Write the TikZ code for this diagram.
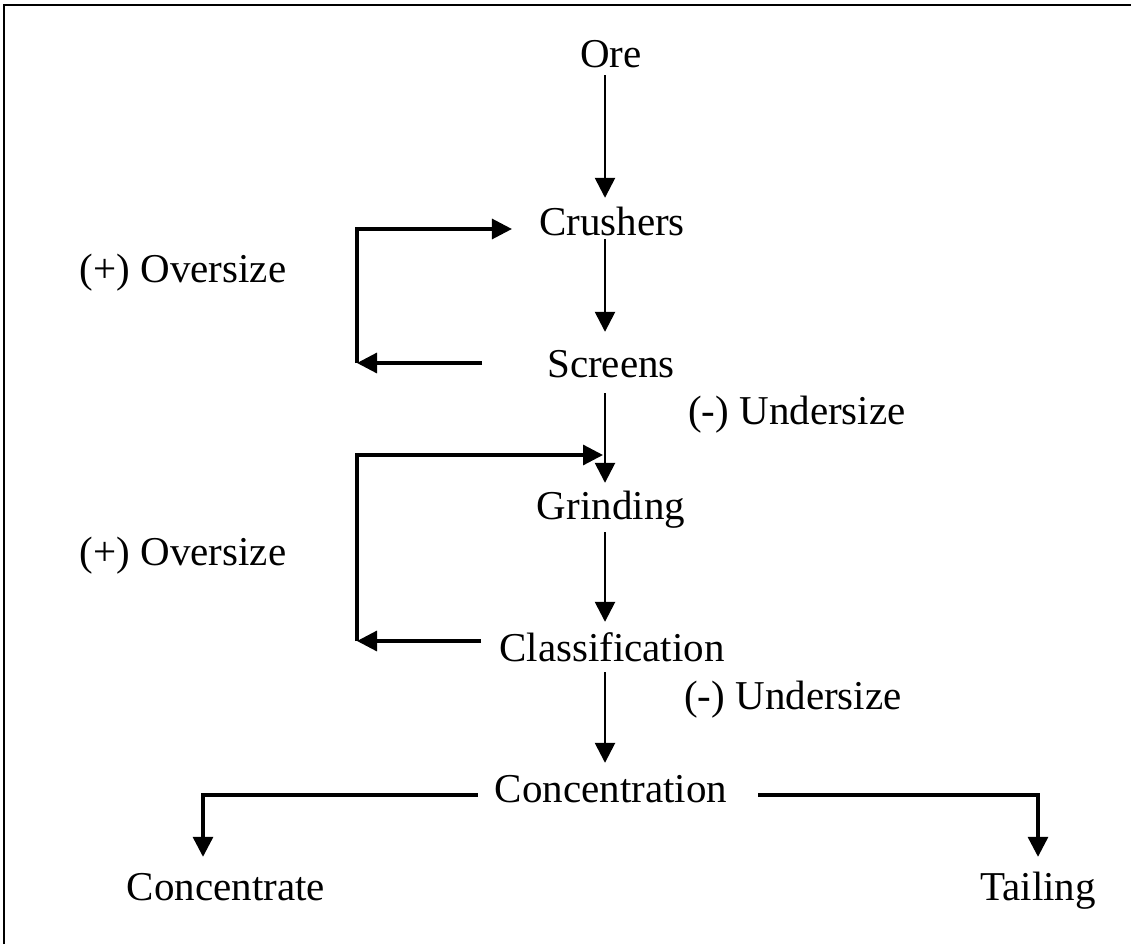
\documentclass[tikz,border=0pt]{standalone}
\usepackage{fontspec}
\setmainfont{Liberation Serif}
\usetikzlibrary{arrows.meta}
\begin{document}
\begin{tikzpicture}[x=1pt,y=-1pt,
  lbl/.style={anchor=base, inner sep=0pt, text height=28pt, text depth=9pt, font=\fontsize{41}{41}\selectfont},
  arr/.style={line width=2.6pt, -{Triangle[length=20pt,width=20pt]}},
  loopline/.style={line width=3.2pt},
]
\useasboundingbox (0,0) rectangle (1131,944);
\draw[line width=2.6pt] (4,944) -- (4,5) -- (1131,5);

% main column nodes
\node[lbl] (ore) at (611,68) {Ore};
\node[lbl] (crushers) at (612,235) {Crushers};
\node[lbl] (screens) at (611,377) {Screens};
\node[lbl] (grinding) at (611,519) {Grinding};
\node[lbl] (class) at (612,661) {Classification};
\node[lbl] (conc) at (611,802) {Concentration};
\node[lbl] (concentrate) at (226,900) {Concentrate};
\node[lbl] (tailing) at (1038,900) {Tailing};

% side labels
\node[lbl] (ov1) at (183,282) {(+) Oversize};
\node[lbl] (un1) at (797,424) {(-) Undersize};
\node[lbl] (ov2) at (183,565) {(+) Oversize};
\node[lbl] (un2) at (793,709) {(-) Undersize};

% helper coordinates
\coordinate (colx) at (605,0);
\coordinate (l1b) at (357,363);
\coordinate (l1t) at (357,229);
\coordinate (l2b) at (357,641);
\coordinate (l2t) at (357,455);
\coordinate (bl) at (203,795);
\coordinate (br) at (1038,795);

% main flow
\draw[arr, shorten <=-2pt, shorten >=9pt] (colx |- ore.south) -- (colx |- crushers.north);
\draw[arr, shorten <=-5pt, shorten >=17pt] (colx |- crushers.south) -- (colx |- screens.north);
\draw[arr, shorten <=7pt, shorten >=8pt] (colx |- screens.south) -- (colx |- grinding.north);
\draw[arr, shorten <=4pt, shorten >=11pt] (colx |- grinding.south) -- (colx |- class.north);
\draw[arr, shorten <=2pt, shorten >=11pt] (colx |- class.south) -- (colx |- conc.north);

% oversize loop 1
\draw[arr, loopline, shorten <=65pt] (screens.west |- l1b) -- (l1b);
\draw[arr, loopline, shorten >=27pt] (l1b) -- (l1t) -- (crushers.west |- l1t);

% oversize loop 2
\draw[arr, loopline, shorten <=18pt] (class.west |- l2b) -- (l2b);
\draw[arr, loopline, shorten >=2pt] (l2b) -- (l2t) -- (colx |- l2t);

% concentration branches
\draw[arr, loopline, shorten <=17pt, shorten >=15pt] (conc.west |- bl) -- (bl) -- (bl |- concentrate.north);
\draw[arr, loopline, shorten <=31pt, shorten >=15pt] (conc.east |- br) -- (br) -- (br |- tailing.north);
\end{tikzpicture}
\end{document}
